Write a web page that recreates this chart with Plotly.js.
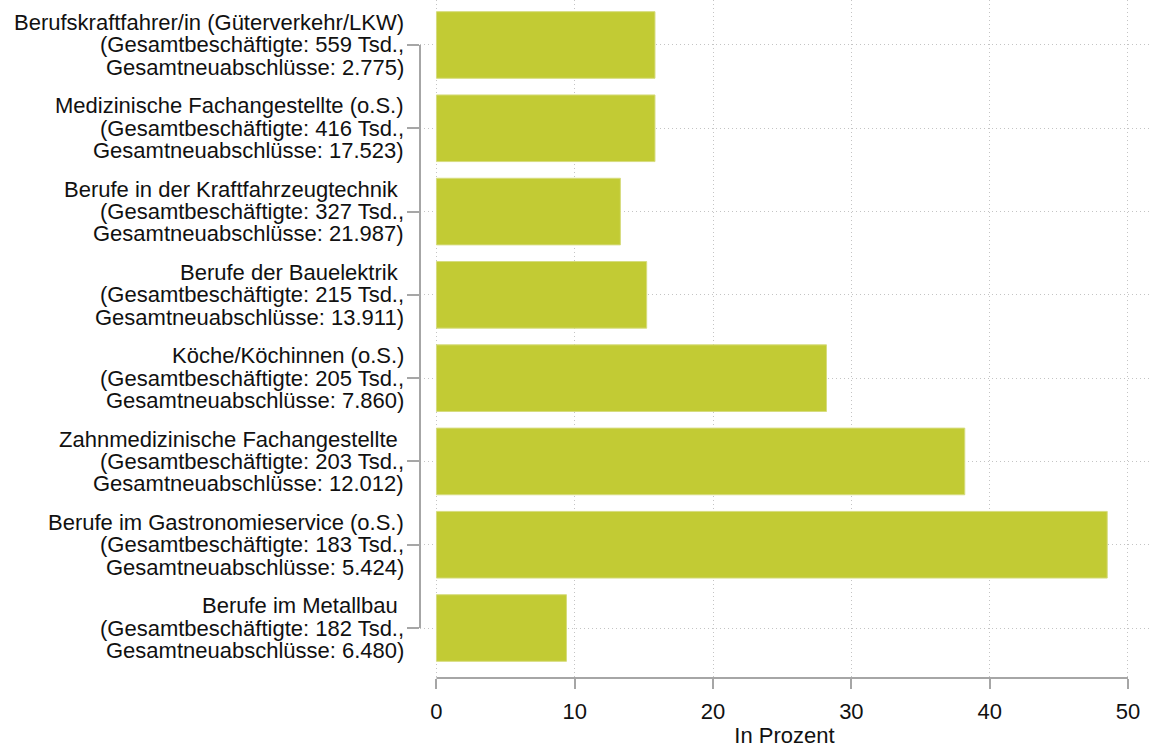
<!DOCTYPE html>
<html>
<head>
<meta charset="utf-8">
<script src="https://cdn.plot.ly/plotly-3.0.1.min.js"></script>
<style>html,body{margin:0;padding:0;background:#fff;}#chart{width:1149px;height:751px;}</style>
</head>
<body>
<div id="chart"></div>
<script>
const occupations = [
  "Berufskraftfahrer/in (Güterverkehr/LKW)",
  "Medizinische Fachangestellte (o.S.)",
  "Berufe in der Kraftfahrzeugtechnik ",
  "Berufe der Bauelektrik ",
  "Köche/Köchinnen (o.S.)",
  "Zahnmedizinische Fachangestellte ",
  "Berufe im Gastronomieservice (o.S.)",
  "Berufe im Metallbau "
];
const employedTsd = ["559", "416", "327", "215", "205", "203", "183", "182"];
const newContracts = ["2.775", "17.523", "21.987", "13.911", "7.860", "12.012", "5.424", "6.480"];
const percentValues = [15.8, 15.8, 13.3, 15.2, 28.2, 38.2, 48.5, 9.4];
const xTicks = [0, 10, 20, 30, 40, 50];
const xTitle = "In Prozent";

const cats = occupations.map((o, i) => "c" + i);
const font = "Liberation Sans, Arial, Helvetica, sans-serif";
const textColor = "#111111";
const axisGray = "#a6a6a6";

const trace = {
  type: "bar",
  orientation: "h",
  y: cats,
  x: percentValues,
  marker: {color: "#c2cb34", line: {color: "#d6dc7e", width: 1}},
  hoverinfo: "x",
  width: 0.8
};

const annotations = [];
occupations.forEach((o, i) => {
  const lines = [o, "(Gesamtbeschäftigte: " + employedTsd[i] + " Tsd.,", "Gesamtneuabschlüsse: " + newContracts[i] + ")"];
  lines.forEach((t, j) => {
    annotations.push({
      xref: "paper", yref: "y", x: 0, y: cats[i],
      text: t.replace(/ $/, "&nbsp;"),
      showarrow: false, xanchor: "right", yanchor: "middle",
      xshift: -15, yshift: (1 - j) * 22.3,
      borderpad: 0,
      font: {family: font, size: 22, color: textColor}
    });
  });
});

const layout = {
  width: 1149, height: 751,
  margin: {l: 420, r: 0, t: 0, b: 73},
  paper_bgcolor: "#ffffff", plot_bgcolor: "#ffffff",
  showlegend: false,
  bargap: 0.2,
  font: {family: font, size: 22, color: textColor},
  xaxis: {
    range: [-1.19, 51.52],
    tickvals: xTicks,
    ticktext: xTicks.map(String),
    ticks: "outside", ticklen: 10, tickwidth: 2, tickcolor: axisGray,
    showline: false, zeroline: false,
    showgrid: true, gridcolor: "#c4c4c4", griddash: "1px,3px", gridwidth: 1,
    ticklabelstandoff: 4,
    tickfont: {family: font, size: 22, color: textColor},
    title: {text: xTitle, font: {family: font, size: 22, color: textColor}, standoff: 4}
  },
  yaxis: {
    type: "category",
    categoryorder: "array", categoryarray: cats,
    range: [7.6, -0.54],
    showticklabels: false,
    ticks: "outside", ticklen: 12, tickwidth: 2, tickcolor: axisGray,
    showline: false, zeroline: false,
    showgrid: true, gridcolor: "#c4c4c4", griddash: "1px,3px", gridwidth: 1
  },
  shapes: [
    {type: "line", xref: "x", yref: "paper", x0: xTicks[0], x1: xTicks[xTicks.length - 1], y0: 0, y1: 0,
     line: {color: axisGray, width: 2}},
    {type: "line", xref: "paper", yref: "y", x0: 0, x1: 0, y0: cats[0], y1: cats[cats.length - 1],
     line: {color: axisGray, width: 2}}
  ],
  annotations: annotations
};

Plotly.newPlot("chart", [trace], layout, {displayModeBar: false, staticPlot: true});
</script>
</body>
</html>
